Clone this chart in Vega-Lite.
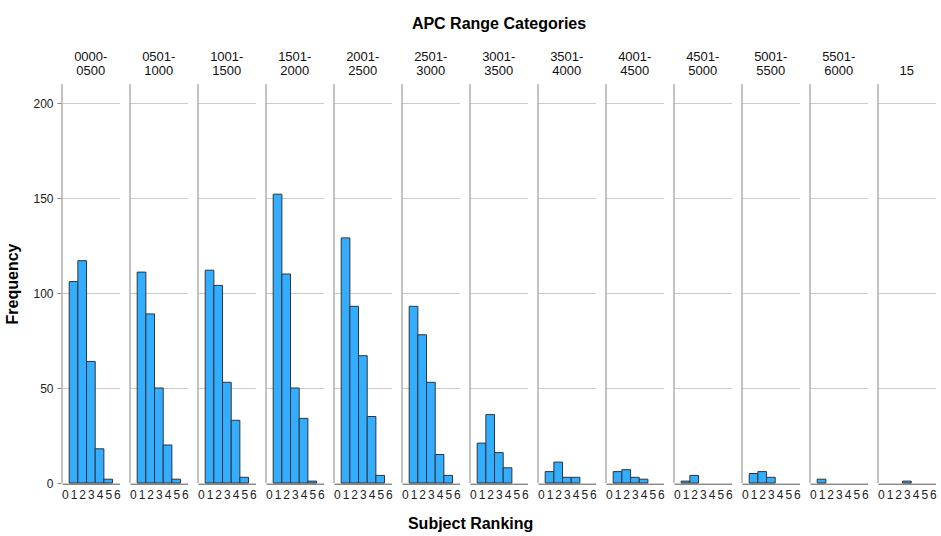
{
  "$schema": "https://vega.github.io/schema/vega-lite/v6.json",
  "background": "white",
  "padding": {"left": 4, "right": 4, "top": 16, "bottom": 1},
  "config": {
    "view": {"stroke": null},
    "font": "Liberation Sans"
  },
  "title": {"text": "Subject Ranking", "orient": "bottom", "anchor": "middle", "fontSize": 16, "fontWeight": "bold", "font": "Liberation Sans", "color": "#000", "offset": 16},
  "data": {"values": [
    {"apc": "0000-0500", "rank": 1, "freq": 106},
    {"apc": "0000-0500", "rank": 2, "freq": 117},
    {"apc": "0000-0500", "rank": 3, "freq": 64},
    {"apc": "0000-0500", "rank": 4, "freq": 18},
    {"apc": "0000-0500", "rank": 5, "freq": 2},
    {"apc": "0501-1000", "rank": 1, "freq": 111},
    {"apc": "0501-1000", "rank": 2, "freq": 89},
    {"apc": "0501-1000", "rank": 3, "freq": 50},
    {"apc": "0501-1000", "rank": 4, "freq": 20},
    {"apc": "0501-1000", "rank": 5, "freq": 2},
    {"apc": "1001-1500", "rank": 1, "freq": 112},
    {"apc": "1001-1500", "rank": 2, "freq": 104},
    {"apc": "1001-1500", "rank": 3, "freq": 53},
    {"apc": "1001-1500", "rank": 4, "freq": 33},
    {"apc": "1001-1500", "rank": 5, "freq": 3},
    {"apc": "1501-2000", "rank": 1, "freq": 152},
    {"apc": "1501-2000", "rank": 2, "freq": 110},
    {"apc": "1501-2000", "rank": 3, "freq": 50},
    {"apc": "1501-2000", "rank": 4, "freq": 34},
    {"apc": "1501-2000", "rank": 5, "freq": 1},
    {"apc": "2001-2500", "rank": 1, "freq": 129},
    {"apc": "2001-2500", "rank": 2, "freq": 93},
    {"apc": "2001-2500", "rank": 3, "freq": 67},
    {"apc": "2001-2500", "rank": 4, "freq": 35},
    {"apc": "2001-2500", "rank": 5, "freq": 4},
    {"apc": "2501-3000", "rank": 1, "freq": 93},
    {"apc": "2501-3000", "rank": 2, "freq": 78},
    {"apc": "2501-3000", "rank": 3, "freq": 53},
    {"apc": "2501-3000", "rank": 4, "freq": 15},
    {"apc": "2501-3000", "rank": 5, "freq": 4},
    {"apc": "3001-3500", "rank": 1, "freq": 21},
    {"apc": "3001-3500", "rank": 2, "freq": 36},
    {"apc": "3001-3500", "rank": 3, "freq": 16},
    {"apc": "3001-3500", "rank": 4, "freq": 8},
    {"apc": "3501-4000", "rank": 1, "freq": 6},
    {"apc": "3501-4000", "rank": 2, "freq": 11},
    {"apc": "3501-4000", "rank": 3, "freq": 3},
    {"apc": "3501-4000", "rank": 4, "freq": 3},
    {"apc": "4001-4500", "rank": 1, "freq": 6},
    {"apc": "4001-4500", "rank": 2, "freq": 7},
    {"apc": "4001-4500", "rank": 3, "freq": 3},
    {"apc": "4001-4500", "rank": 4, "freq": 2},
    {"apc": "4501-5000", "rank": 1, "freq": 1},
    {"apc": "4501-5000", "rank": 2, "freq": 4},
    {"apc": "5001-5500", "rank": 1, "freq": 5},
    {"apc": "5001-5500", "rank": 2, "freq": 6},
    {"apc": "5001-5500", "rank": 3, "freq": 3},
    {"apc": "5501-6000", "rank": 1, "freq": 2},
    {"apc": "15", "rank": 3, "freq": 1}
  ]},
  "facet": {
    "column": {
      "field": "apc",
      "type": "nominal",
      "sort": ["0000-0500", "0501-1000", "1001-1500", "1501-2000", "2001-2500", "2501-3000", "3001-3500", "3501-4000", "4001-4500", "4501-5000", "5001-5500", "5501-6000", "15"],
      "header": {
        "title": "APC Range Categories",
        "titleFont": "Liberation Sans",
        "titleFontSize": 16,
        "titleFontWeight": "bold",
        "titleColor": "#000",
        "titlePadding": 9,
        "labelFont": "Liberation Sans",
        "labelFontSize": 13,
        "labelColor": "#111",
        "labelBaseline": "bottom",
        "labelLineHeight": 14,
        "labelPadding": -8,
        "labelExpr": "indexof(datum.value, '-') > 0 ? [slice(datum.value, 0, 5), slice(datum.value, 5)] : datum.value"
      }
    }
  },
  "spacing": 9,
  "spec": {
    "width": 57.5,
    "height": 399,
    "layer": [
      {
        "mark": {"type": "bar", "color": "#33adff", "stroke": "#333333", "strokeWidth": 1, "width": 8.67},
        "encoding": {
          "x": {
            "field": "rank",
            "type": "quantitative",
            "scale": {"domain": [-0.33, 6.3], "nice": false, "zero": false, "padding": 0},
            "axis": {"title": null, "values": [0, 1, 2, 3, 4, 5, 6], "tickCount": 7, "grid": false, "ticks": false, "domainColor": "#888888", "labelFont": "Liberation Sans", "labelFontSize": 12, "labelColor": "#222", "labelPadding": 5, "labelFlush": false, "labelOverlap": false, "labelBound": false}
          },
          "y": {
            "field": "freq",
            "type": "quantitative",
            "scale": {"domain": [0, 210], "nice": false},
            "axis": {"title": "Frequency", "values": [0, 50, 100, 150, 200], "grid": true, "gridColor": "#cccccc", "domain": false, "tickColor": "#888888", "tickSize": 4, "labelFont": "Liberation Sans", "labelFontSize": 12, "labelColor": "#222", "labelPadding": 4, "titleFont": "Liberation Sans", "titleFontSize": 16, "titleFontWeight": "bold", "titleColor": "#000", "titlePadding": 12}
          }
        }
      },
      {
        "transform": [{"aggregate": [{"op": "count", "as": "n"}], "groupby": ["apc"]}],
        "mark": {"type": "rule", "color": "#888888", "strokeWidth": 1},
        "encoding": {
          "x": {"datum": -0.33, "type": "quantitative",
            "axis": {"title": null, "values": [0, 1, 2, 3, 4, 5, 6], "tickCount": 7, "grid": false, "ticks": false, "domainColor": "#888888", "labelFont": "Liberation Sans", "labelFontSize": 12, "labelColor": "#222", "labelPadding": 5, "labelFlush": false, "labelOverlap": false, "labelBound": false}},
          "y": {"datum": 0, "type": "quantitative",
            "axis": {"title": "Frequency", "values": [0, 50, 100, 150, 200], "grid": true, "gridColor": "#cccccc", "domain": false, "tickColor": "#888888", "tickSize": 4, "labelFont": "Liberation Sans", "labelFontSize": 12, "labelColor": "#222", "labelPadding": 4, "titleFont": "Liberation Sans", "titleFontSize": 16, "titleFontWeight": "bold", "titleColor": "#000", "titlePadding": 12}},
          "y2": {"datum": 210}
        }
      }
    ]
  }
}
